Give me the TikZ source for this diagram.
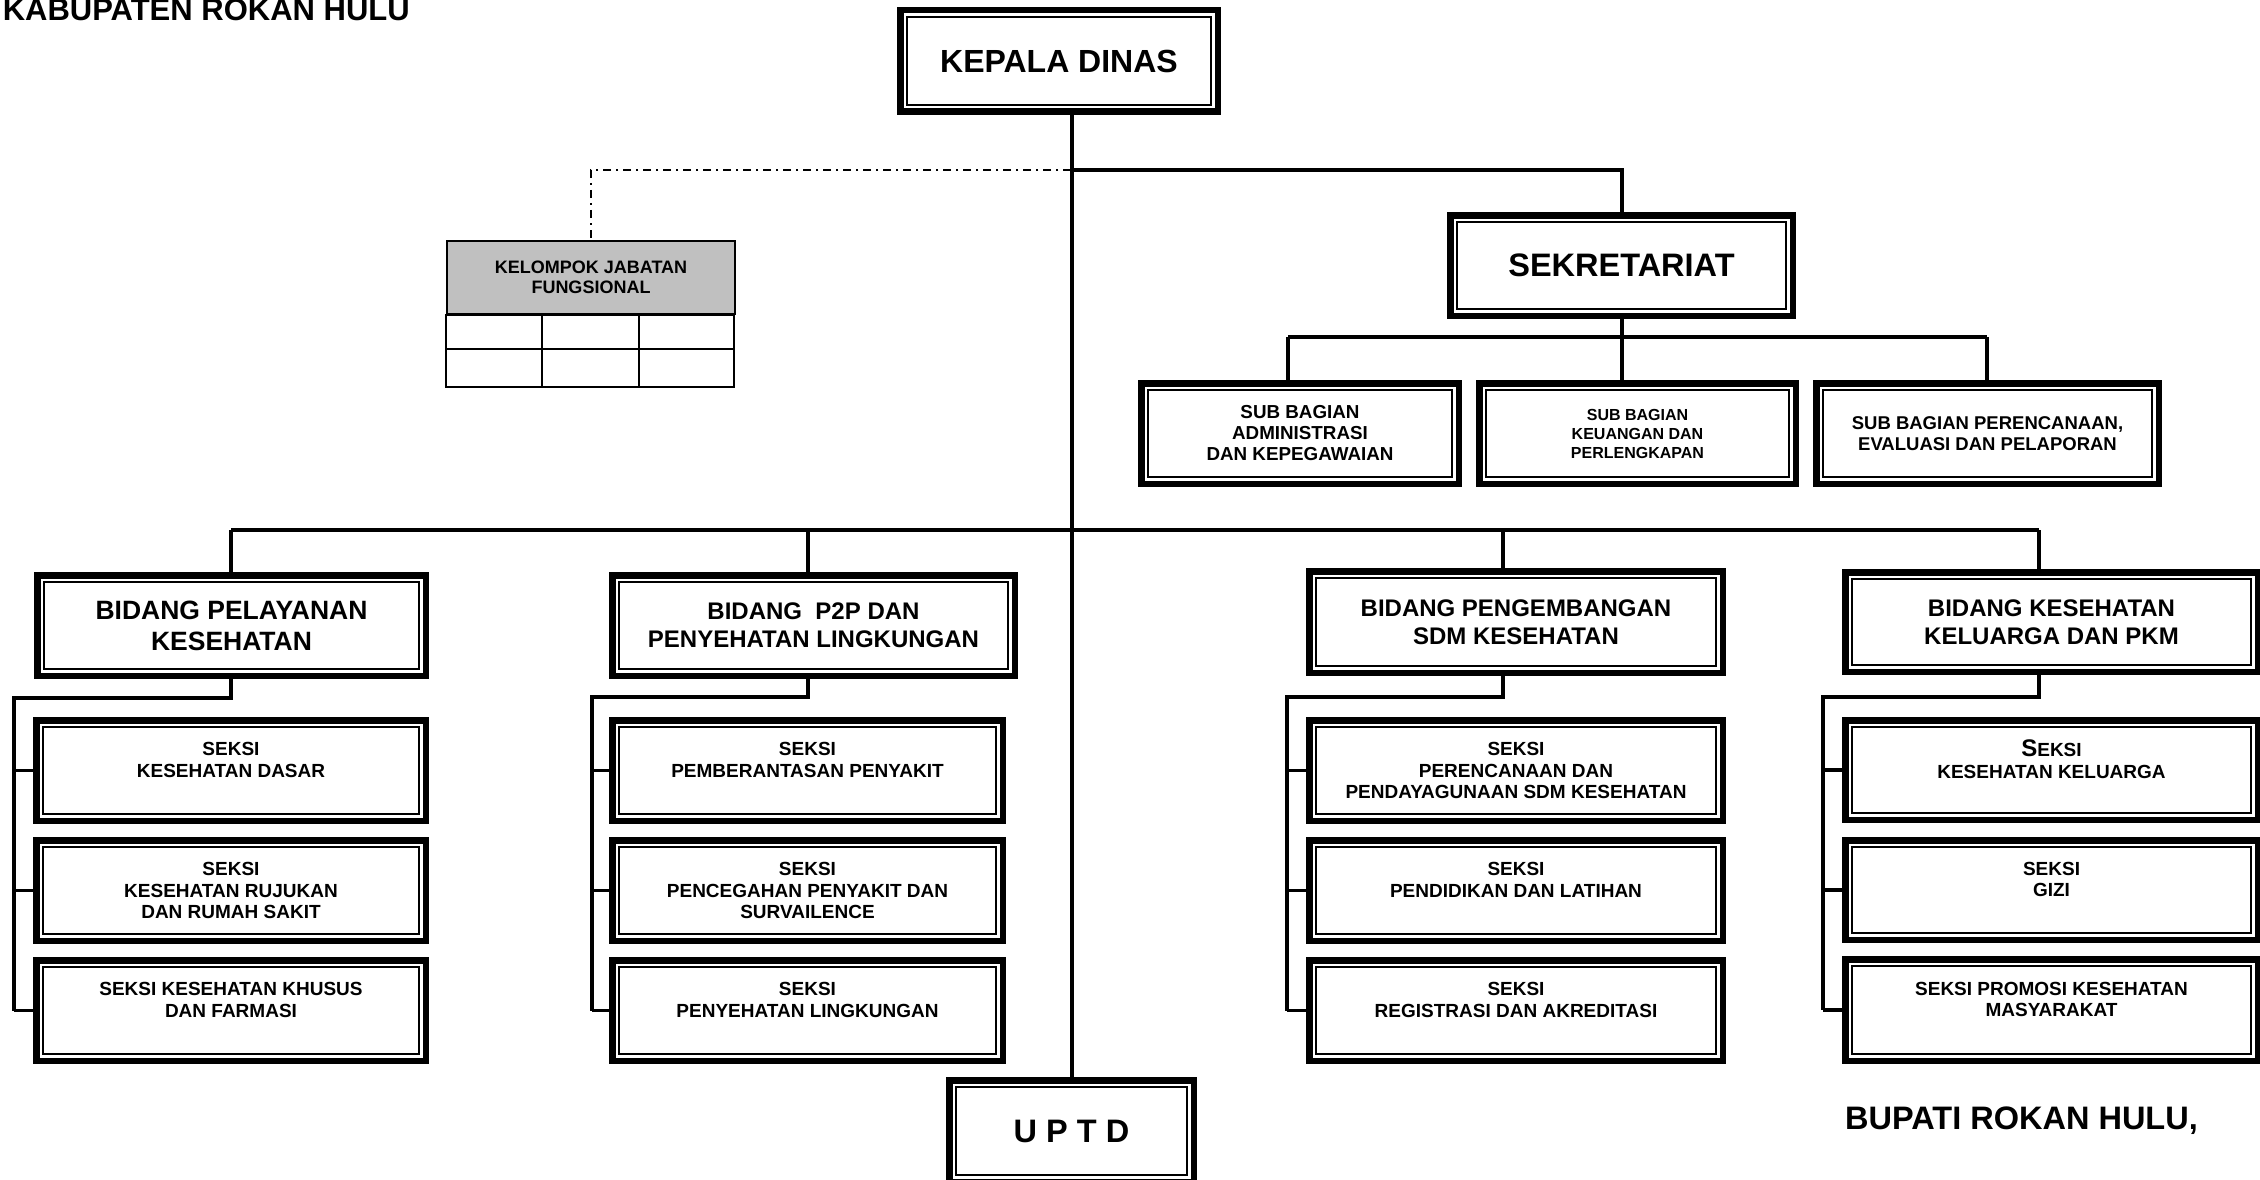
\documentclass[tikz,border=0pt]{standalone}
\usepackage{fontspec}
\setmainfont{Liberation Sans}
\newcommand\setfs[2]{\fontsize{#1}{#2}\selectfont\bfseries}
\definecolor{hdrgray}{HTML}{C0C0C0}
\tikzset{
  % double frame: heavy outer border with a thin inner rule
  frame/.style={draw, line width=6.5pt, inner sep=0pt, align=center,
    path picture={\draw[line width=2pt]
      ([shift={(6.75pt,-6.75pt)}]path picture bounding box.north west) rectangle
      ([shift={(-6.75pt,6.75pt)}]path picture bounding box.south east);}},
  % place a frame by its outer edges: left, right, top, bottom
  boxat/.style n args={4}{at={({(#1+#2)/2},{(#3+#4)/2})},
    minimum width={#2pt-#1pt-6.5pt}, minimum height={#4pt-#3pt-6.5pt}},
  headtxt/.style={font=\setfs{32.5}{37}},
  bidtxt/.style={font=\setfs{24}{28}},
  seksitxt/.style={font=\setfs{19}{21.5}},
  conn/.style={line width=4pt},
  subconn/.style={line width=3.5pt},
  fline/.style={line width=2pt, dash pattern=on 8pt off 5pt on 2pt off 5pt},
  tbl/.style={line width=1.6pt},
}
\begin{document}
\begin{tikzpicture}[x=1pt,y=-1pt]
\useasboundingbox (0,0) rectangle (2260,1180);
\fill[white] (0,0) rectangle (2260,1180);
\clip (0,0) rectangle (2260,1180);

% heading and signature
\node[anchor=base east, font=\setfs{31}{36}, inner sep=0pt] (kab) at (410,21) {KABUPATEN ROKAN HULU};
\node[anchor=base west, font=\setfs{32.5}{37}, inner sep=0pt] (bupati) at (1845,1129) {BUPATI ROKAN HULU,};

% top level
\node[frame, boxat={897}{1221}{7}{115}, font=\setfs{32}{37}] (kd) {KEPALA DINAS};
\node[frame, boxat={1447}{1796}{212}{319}, headtxt] (sek) {SEKRETARIAT};
\node[frame, boxat={946}{1197}{1077}{1185}, headtxt] (uptd) {U P T D};

% sub bagian
\node[frame, boxat={1138}{1462}{380}{487}, font=\setfs{18.8}{21}] (sub1) {SUB BAGIAN\\ADMINISTRASI\\DAN KEPEGAWAIAN};
\node[frame, boxat={1476}{1799}{380}{487}, font=\setfs{16}{19}] (sub2) {SUB BAGIAN\\KEUANGAN DAN\\PERLENGKAPAN};
\node[frame, boxat={1813}{2162}{380}{487}, font=\setfs{18.5}{20.5}] (sub3) {SUB BAGIAN PERENCANAAN,\\EVALUASI DAN PELAPORAN};

% functional group table
\node[draw, tbl, fill=hdrgray, inner sep=0pt, align=center, font=\setfs{18}{20},
  at={(591,277.5)}, minimum width=288pt, minimum height=73pt] (kjf) {KELOMPOK JABATAN\\FUNGSIONAL};
\draw[tbl] (kjf.south west) rectangle ++(288,72);
\draw[tbl] ([yshift=-34pt]kjf.south west) -- ++(288,0);
\draw[tbl] ([xshift=96pt]kjf.south west) -- ++(0,72);
\draw[tbl] ([xshift=193pt]kjf.south west) -- ++(0,72);

% bidang
\node[frame, boxat={34}{429}{572}{679}, font=\setfs{26.5}{31}] (b1) {BIDANG PELAYANAN\\KESEHATAN};
\node[frame, boxat={609}{1018}{572}{679}, bidtxt] (b2) {BIDANG\ \ P2P DAN\\PENYEHATAN LINGKUNGAN};
\node[frame, boxat={1306}{1726}{568}{676}, bidtxt] (b3) {BIDANG PENGEMBANGAN\\SDM KESEHATAN};
\node[frame, boxat={1842}{2261}{569}{675}, bidtxt] (b4) {BIDANG KESEHATAN\\KELUARGA DAN PKM};

% seksi, column 1
\node[frame, boxat={33}{429}{717}{824}, seksitxt] (s11) {SEKSI\\KESEHATAN DASAR\\\mbox{}};
\node[frame, boxat={33}{429}{837}{944}, seksitxt] (s12) {SEKSI\\KESEHATAN RUJUKAN\\DAN RUMAH SAKIT};
\node[frame, boxat={33}{429}{957}{1064}, seksitxt] (s13) {SEKSI KESEHATAN KHUSUS\\DAN FARMASI\\\mbox{}};
% column 2
\node[frame, boxat={609}{1006}{717}{824}, seksitxt] (s21) {SEKSI\\PEMBERANTASAN PENYAKIT\\\mbox{}};
\node[frame, boxat={609}{1006}{837}{944}, seksitxt] (s22) {SEKSI\\PENCEGAHAN PENYAKIT DAN\\SURVAILENCE};
\node[frame, boxat={609}{1006}{957}{1064}, seksitxt] (s23) {SEKSI\\PENYEHATAN LINGKUNGAN\\\mbox{}};
% column 3
\node[frame, boxat={1306}{1726}{717}{824}, seksitxt] (s31) {SEKSI\\PERENCANAAN DAN\\PENDAYAGUNAAN SDM KESEHATAN};
\node[frame, boxat={1306}{1726}{837}{944}, seksitxt] (s32) {SEKSI\\PENDIDIKAN DAN LATIHAN\\\mbox{}};
\node[frame, boxat={1306}{1726}{957}{1064}, seksitxt] (s33) {SEKSI\\REGISTRASI DAN AKREDITASI\\\mbox{}};
% column 4
\node[frame, boxat={1842}{2261}{717}{823}, seksitxt] (s41) {{\fontsize{24}{24}\selectfont S}EKSI\\KESEHATAN KELUARGA\\\mbox{}};
\node[frame, boxat={1842}{2261}{837}{943}, seksitxt] (s42) {SEKSI\\GIZI\\\mbox{}};
\node[frame, boxat={1842}{2261}{956}{1064}, seksitxt] (s43) {SEKSI PROMOSI KESEHATAN\\MASYARAKAT\\\mbox{}};

% main spine
\coordinate (jk) at (1071,170);
\draw[conn] (uptd.north |- kd.south) -- (uptd.north);
\draw[conn] (jk) -| (sek.north);
\draw[fline] (jk) -- (kjf.north |- jk) -- (kjf.north);

% sekretariat branches
\coordinate (sbL) at (1288,337);
\coordinate (sbR) at (1987,337);
\draw[conn] (sek.south) -- (sek.south |- sub2.north);
\draw[conn] (sbL) -- (sbR);
\draw[conn] (sbL) -- (sbL |- sub1.north);
\draw[conn] (sbR) -- (sbR |- sub3.north);

% bidang bar
\coordinate (v1) at (231,530);
\coordinate (v2) at (808,530);
\coordinate (v3) at (1503,530);
\coordinate (v4) at (2039,530);
\draw[conn] (v1) -- (v4);
\foreach \v/\b in {v1/b1,v2/b2,v3/b3,v4/b4}
  \draw[conn] (\v) -- (\v |- \b.north);

% seksi connectors
\coordinate (t1) at (231,698);  \coordinate (c1) at (14,698);
\coordinate (t2) at (808,697);  \coordinate (c2) at (592,697);
\coordinate (t3) at (1503,697); \coordinate (c3) at (1287,697);
\coordinate (t4) at (2039,697); \coordinate (c4) at (1823,697);
\foreach \i in {1,2,3,4} {
  \draw[subconn, line join=miter] (t\i |- b\i.south) -- (t\i) -- (c\i) -- (c\i |- s\i3.west);
  \foreach \j in {1,2,3}
    \draw[subconn] (c\i |- s\i\j.west) -- (s\i\j.west);
}
\end{tikzpicture}
\end{document}
